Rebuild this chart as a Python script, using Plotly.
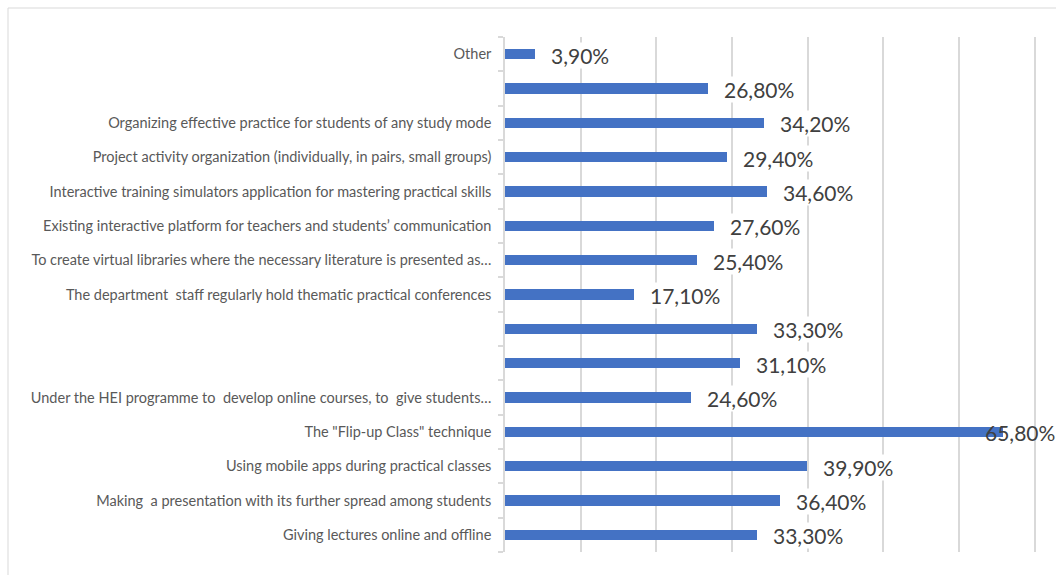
import plotly.graph_objects as go

# Survey answers, listed bottom to top (blank entries have no label text)
categories = [
    "Giving lectures online and offline",
    "Making  a presentation with its further spread among students",
    "Using mobile apps during practical classes",
    "The \"Flip-up Class\" technique",
    "Under the HEI programme to  develop online courses, to  give students…",
    "",
    "",
    "The department  staff regularly hold thematic practical conferences",
    "To create virtual libraries where the necessary literature is presented as…",
    "Existing interactive platform for teachers and students’ communication",
    "Interactive training simulators application for mastering practical skills",
    "Project activity organization (individually, in pairs, small groups)",
    "Organizing effective practice for students of any study mode",
    "",
    "Other",
]
shares = [33.3, 36.4, 39.9, 65.8, 24.6, 31.1, 33.3, 17.1, 25.4, 27.6, 34.6, 29.4, 34.2, 26.8, 3.9]
value_labels = ["33,30%", "36,40%", "39,90%", "65,80%", "24,60%", "31,10%", "33,30%", "17,10%",
                "25,40%", "27,60%", "34,60%", "29,40%", "34,20%", "26,80%", "3,90%"]

positions = list(range(1, len(categories) + 1))

W, H = 1056, 575
ML, MR, MT, MB = 505, 19, 37, 23
X_RANGE = [0, 70.3]  # small pad so the 70% gridline is drawn at the edge

fig = go.Figure(
    go.Bar(
        x=shares,
        y=positions,
        orientation="h",
        width=0.31,
        marker=dict(color="#4472C4", line=dict(width=0)),
        hoverinfo="skip",
    )
)

# Value labels just past each bar end; the longest bar's label is pulled back inside the frame
max_share = max(shares)
for pos, val, txt in zip(positions, shares, value_labels):
    clamp = val == max_share
    fig.add_annotation(
        x=val, y=pos, xref="x", yref="y",
        text=txt, showarrow=False,
        xanchor="left", yanchor="middle",
        xshift=-19 if clamp else 15,
        yshift=-1,
        font=dict(family="Lato", size=21, color="#404040"),
        bgcolor="rgba(0,0,0,0)" if clamp else "white",
        borderpad=0,
    )

# Light outer frame of the chart area
pw = W - ML - MR
ph = H - MT - MB
fig.add_shape(
    type="rect", xref="paper", yref="paper",
    x0=(8 - ML) / pw, x1=(W + 20 - ML) / pw,
    y0=-(MB + 20) / ph, y1=1 + (MT - 8) / ph,
    line=dict(color="#d9d9d9", width=1), fillcolor="rgba(0,0,0,0)", layer="below",
)

fig.update_layout(
    width=W, height=H,
    margin=dict(l=ML, r=MR, t=MT, b=MB, pad=0),
    paper_bgcolor="white", plot_bgcolor="white",
    showlegend=False,
    bargap=0,
    font=dict(family="Lato", color="#595959"),
)
fig.update_xaxes(
    range=X_RANGE, dtick=10, tick0=0,
    showgrid=True, gridcolor="#d9d9d9", gridwidth=1.5,
    showticklabels=False, zeroline=False, showline=False, ticks="",
    fixedrange=True,
)
fig.update_yaxes(
    range=[0.5, len(categories) + 0.5],
    tickmode="array", tickvals=positions, ticktext=categories,
    tickfont=dict(family="Lato", size=14.5, color="#595959"),
    ticks="", showgrid=False, zeroline=False,
    showline=True, linecolor="#d9d9d9", linewidth=1.5,
    ticklabelstandoff=9,
    minor=dict(tickmode="linear", tick0=0.5, dtick=1, ticks="outside",
               ticklen=5, tickcolor="#d9d9d9", tickwidth=1.5, showgrid=False),
    fixedrange=True,
)

fig.write_html("out.html")
